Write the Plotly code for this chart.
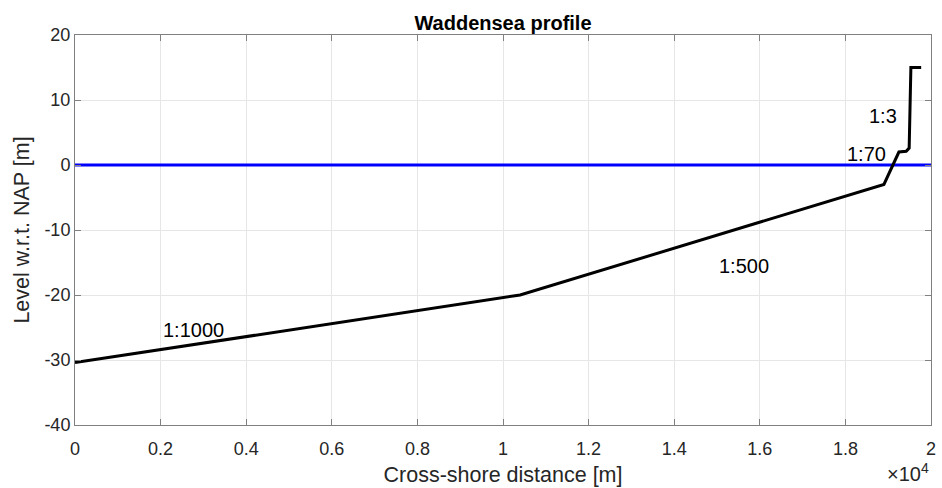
import plotly.graph_objects as go

# Profile data (cross-shore distance [m], level w.r.t. NAP [m])
profile_x = [0, 10400, 18900, 19250, 19420, 19490, 19530, 19770]
profile_y = [-30.4, -20.0, -3.0, 2.0, 2.1, 2.6, 15.0, 15.0]

# Mean water level
water_x = [0, 20000]
water_y = [0, 0]

# Slope labels
slope_labels = ["1:1000", "1:500", "1:70", "1:3"]
slope_x = [2000, 15000, 18000, 18500]
slope_y = [-25.4, -15.5, 1.7, 7.6]

xtick_vals = [0, 2000, 4000, 6000, 8000, 10000, 12000, 14000, 16000, 18000, 20000]
xtick_text = ["0", "0.2", "0.4", "0.6", "0.8", "1", "1.2", "1.4", "1.6", "1.8", "2"]
ytick_vals = [-40, -30, -20, -10, 0, 10, 20]
ytick_text = ["-40", "-30", "-20", "-10", "0", "10", "20"]

font_family = "Arial, Liberation Sans, Helvetica, sans-serif"

fig = go.Figure()
fig.add_trace(go.Scatter(x=water_x, y=water_y, mode="lines",
                         line=dict(color="#0000ff", width=3), showlegend=False))
fig.add_trace(go.Scatter(x=profile_x, y=profile_y, mode="lines",
                         line=dict(color="#000000", width=3), showlegend=False))

for t, x, y in zip(slope_labels, slope_x, slope_y):
    fig.add_annotation(x=x, y=y, text=t, showarrow=False, xanchor="left",
                       yanchor="middle", font=dict(size=20, color="#000000", family=font_family))

fig.add_annotation(xref="paper", yref="paper", x=1.0, y=-0.085, text="×10<sup>4</sup>",
                   showarrow=False, xanchor="right", yanchor="top",
                   font=dict(size=20, color="#262626", family=font_family))

axis_common = dict(showgrid=True, gridcolor="#e6e6e6", gridwidth=1,
                   showline=True, linecolor="#808080", linewidth=1, mirror="ticks",
                   ticks="inside", ticklen=6, tickcolor="#808080", zeroline=False,
                   tickfont=dict(size=18, color="#262626", family=font_family))

fig.update_layout(
    width=942, height=488,
    margin=dict(l=75, r=11, t=35, b=63, autoexpand=False),
    paper_bgcolor="white", plot_bgcolor="white",
    title=dict(text="<b>Waddensea profile</b>", x=0.5, xref="paper", xanchor="center",
               y=1, yref="paper", yanchor="bottom", pad=dict(b=5),
               font=dict(size=20, color="#000000", family=font_family)),
    xaxis=dict(range=[0, 20000], tickvals=xtick_vals, ticktext=xtick_text,
               ticklabelstandoff=7,
               title=dict(text="Cross-shore distance [m]", standoff=9,
                          font=dict(size=21.5, color="#262626", family=font_family)),
               **axis_common),
    yaxis=dict(range=[-40, 20], tickvals=ytick_vals, ticktext=ytick_text,
               title=dict(text="Level w.r.t. NAP [m]", standoff=8,
                          font=dict(size=21.5, color="#262626", family=font_family)),
               **axis_common),
)

fig.write_html("out.html", config={"displayModeBar": False},
               post_script="document.body.style.margin='0px';")
